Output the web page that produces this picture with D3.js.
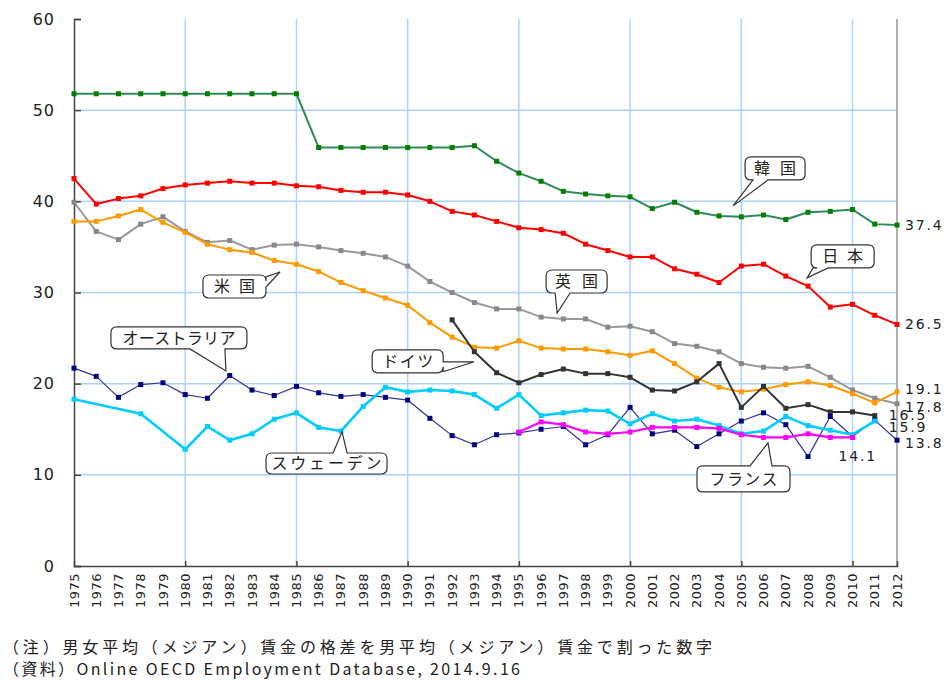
<!DOCTYPE html>
<html>
<head>
<meta charset="utf-8">
<script src="https://cdn.jsdelivr.net/npm/d3@7"></script>
<style>
  body { margin: 0; background: #fff; }
  text { font-family: "DejaVu Sans", sans-serif; fill: #222; }
  .jp { font-family: "Noto Sans CJK JP", sans-serif; }
</style>
</head>
<body>
<svg id="chart" width="944" height="680"></svg>
<script>
// years on the x axis
const years = [1975, 1976, 1977, 1978, 1979, 1980, 1981, 1982, 1983, 1984,
  1985, 1986, 1987, 1988, 1989, 1990, 1991, 1992, 1993, 1994,
  1995, 1996, 1997, 1998, 1999, 2000, 2001, 2002, 2003, 2004,
  2005, 2006, 2007, 2008, 2009, 2010, 2011, 2012];

// gender wage gap (%), one value per year, null = no data
const korea = [51.8, 51.8, 51.8, 51.8, 51.8, 51.8, 51.8, 51.8, 51.8, 51.8,
  51.8, 45.9, 45.9, 45.9, 45.9, 45.9, 45.9, 45.9, 46.1, 44.4,
  43.1, 42.2, 41.1, 40.8, 40.6, 40.5, 39.2, 39.9, 38.8, 38.4,
  38.3, 38.5, 38.0, 38.8, 38.9, 39.1, 37.5, 37.4];
const japan = [42.5, 39.7, 40.3, 40.6, 41.4, 41.8, 42.0, 42.2, 42.0, 42.0,
  41.7, 41.6, 41.2, 41.0, 41.0, 40.7, 40.0, 38.9, 38.5, 37.8,
  37.1, 36.9, 36.5, 35.3, 34.6, 33.9, 33.9, 32.6, 32.0, 31.1,
  32.9, 33.1, 31.8, 30.7, 28.4, 28.7, 27.5, 26.5];
const usa = [39.9, 36.7, 35.8, 37.5, 38.3, 36.7, 35.5, 35.7, 34.7, 35.2,
  35.3, 35.0, 34.6, 34.3, 33.9, 32.9, 31.2, 30.0, 28.9, 28.2,
  28.2, 27.3, 27.1, 27.1, 26.2, 26.3, 25.7, 24.4, 24.1, 23.5,
  22.2, 21.8, 21.7, 21.9, 20.7, 19.3, 18.4, 17.8];
const uk = [37.8, 37.8, 38.4, 39.1, 37.7, 36.6, 35.3, 34.7, 34.4, 33.5,
  33.1, 32.3, 31.1, 30.2, 29.4, 28.6, 26.7, 25.1, 24.0, 23.9,
  24.7, 23.9, 23.8, 23.8, 23.5, 23.1, 23.6, 22.2, 20.6, 19.6,
  19.1, 19.4, 19.9, 20.2, 19.8, 18.9, 17.9, 19.1];
const germany = [null, null, null, null, null, null, null, null, null, null,
  null, null, null, null, null, null, null, 27.0, 23.5, 21.2,
  20.1, 21.0, 21.6, 21.1, 21.1, 20.7, 19.3, 19.2, 20.2, 22.2,
  17.4, 19.7, 17.3, 17.7, 16.9, 16.9, 16.5, null];
const australia = [21.7, 20.8, 18.5, 19.9, 20.1, 18.8, 18.4, 20.9, 19.3, 18.7,
  19.7, 19.0, 18.6, 18.8, 18.5, 18.2, 16.2, 14.3, 13.3, 14.4,
  14.6, 15.0, 15.3, 13.3, 14.4, 17.4, 14.5, 14.9, 13.1, 14.5,
  15.9, 16.8, 15.5, 12.0, 16.4, 14.2, 16.0, 13.8];
const sweden = [18.3, null, null, 16.7, null, 12.8, 15.3, 13.8, 14.5, 16.1,
  16.8, 15.2, 14.8, 17.5, 19.6, 19.1, 19.3, 19.2, 18.8, 17.3,
  18.8, 16.5, 16.8, 17.1, 17.0, 15.6, 16.7, 15.9, 16.1, 15.4,
  14.5, 14.8, 16.4, 15.4, 14.9, 14.4, 15.9, null];
const france = [null, null, null, null, null, null, null, null, null, null,
  null, null, null, null, null, null, null, null, null, null,
  14.7, 15.8, 15.5, 14.7, 14.5, 14.7, 15.2, 15.2, 15.2, 15.1,
  14.4, 14.1, 14.1, 14.5, 14.1, 14.1, null, null];

const yTicks = [0, 10, 20, 30, 40, 50, 60];
const gridYears = [1980, 1985, 1990, 1995, 2000, 2005, 2010];

const series = [
  { name: "日本", values: japan, line: "#ff0000", mark: "#ff0000", w: 2 },
  { name: "米国", values: usa, line: "#999999", mark: "#888888", w: 2 },
  { name: "英国", values: uk, line: "#ff9900", mark: "#ff9900", w: 2 },
  { name: "ドイツ", values: germany, line: "#333333", mark: "#333333", w: 2 },
  { name: "韓国", values: korea, line: "#2e8b57", mark: "#008000", w: 2 },
  { name: "オーストラリア", values: australia, line: "#333399", mark: "#000080", w: 1.2 },
  { name: "スウェーデン", values: sweden, line: "#00ccff", mark: "#00ccff", w: 2.6 },
  { name: "フランス", values: france, line: "#ff00ff", mark: "#ff00ff", w: 2.2 }
];

// value labels at the end of lines (they crowd each other, as in the source)
const endLabels = [
  { values: korea, year: 2012, text: "37.4", dx: 8, dy: 0 },
  { values: japan, year: 2012, text: "26.5", dx: 8, dy: 0 },
  { values: uk, year: 2012, text: "19.1", dx: 8, dy: -3 },
  { values: usa, year: 2012, text: "17.8", dx: 8, dy: 3 },
  { values: germany, year: 2011, text: "16.5", dx: 14, dy: -1 },
  { values: sweden, year: 2011, text: "15.9", dx: 14, dy: 6 },
  { values: australia, year: 2012, text: "13.8", dx: 8, dy: 3 },
  { values: france, year: 2010, text: "14.1", dx: -14, dy: 19 }
];

// callouts: tip at (year, value), box offset from the tip in px
const callouts = [
  { text: "韓国", year: 2004.63, value: 39.5, dx: 12, dy: -49, w: 60, h: 23, side: "bottom", b: [8, 23], tw: 42 },
  { text: "日本", year: 2007.96, value: 31.6, dx: 4, dy: -33, w: 63, h: 23, side: "bottom", b: [2, 17], tw: 41 },
  { text: "米国", year: 1984.26, value: 32.25, dx: -77, dy: 3, w: 63, h: 23, side: "right", b: [2, 12], tw: 41 },
  { text: "英国", year: 1996.72, value: 27.75, dx: -11, dy: -43, w: 61, h: 23, side: "bottom", b: [9, 24], tw: 43 },
  { text: "オーストラリア", year: 1981.83, value: 21.4, dx: -115, dy: -44, w: 136, h: 22, side: "bottom", b: [79, 114], tw: 113 },
  { text: "ドイツ", year: 1992.99, value: 22.4, dx: -102, dy: -12, w: 71, h: 23, side: "right", b: [12, 22], tw: 51 },
  { text: "スウェーデン", year: 1987.05, value: 14.7, dx: -76, dy: 21, w: 121, h: 21, side: "top", b: [67, 81], tw: 110 },
  { text: "フランス", year: 2006.2, value: 13.5, dx: -71, dy: 23, w: 93, h: 26, side: "top", b: [53, 75], tw: 68 }
];

const svg = d3.select("#chart");
const x = d3.scaleLinear().domain([1975, 2012]).range([74, 897]);
const y = d3.scaleLinear().domain([0, 60]).range([566, 19]);

// grid
svg.append("g").selectAll("line").data(gridYears).join("line")
  .attr("x1", d => x(d)).attr("x2", d => x(d))
  .attr("y1", y(60)).attr("y2", y(0))
  .attr("stroke", "#aad4ff").attr("stroke-width", 1.5);
svg.append("g").selectAll("line").data(yTicks.filter(d => d > 0 && d < 60)).join("line")
  .attr("x1", x(1975)).attr("x2", x(2012))
  .attr("y1", d => y(d)).attr("y2", d => y(d))
  .attr("stroke", "#aad4ff").attr("stroke-width", 1.5);

// right border
svg.append("line")
  .attr("x1", x(2012)).attr("x2", x(2012)).attr("y1", y(60)).attr("y2", y(0))
  .attr("stroke", "#999").attr("stroke-width", 1.5);

// y axis
const yAxis = d3.axisLeft(y).tickValues(yTicks).tickSize(-7).tickPadding(19);
const yg = svg.append("g").attr("transform", `translate(${x(1975)},0)`).call(yAxis);
yg.select(".domain").attr("stroke", "#444").attr("stroke-width", 1.5);
yg.selectAll(".tick line").attr("stroke", "#444").attr("stroke-width", 1.5);
yg.selectAll("text").attr("font-size", 16).attr("letter-spacing", 1)
  .attr("font-family", "DejaVu Sans").attr("fill", "#222");

// x axis: ticks at 5 years, labels every year
const xTickAxis = d3.axisBottom(x).tickValues(gridYears).tickSize(-5).tickFormat("");
const xg = svg.append("g").attr("transform", `translate(0,${y(0)})`).call(xTickAxis);
xg.select(".domain").attr("stroke", "#444").attr("stroke-width", 1.5);
xg.selectAll(".tick line").attr("stroke", "#444").attr("stroke-width", 1.5);

svg.append("g").selectAll("text").data(years).join("text")
  .attr("transform", d => `translate(${x(d)},${y(0) + 7}) rotate(-90)`)
  .attr("text-anchor", "end")
  .attr("dy", "0.35em")
  .attr("font-size", 13)
  .attr("letter-spacing", 0.5)
  .text(d => d);

// lines and markers
const line = d3.line().x(d => x(d.year)).y(d => y(d.v));
series.forEach(s => {
  const pts = years.map((yr, i) => ({ year: yr, v: s.values[i] })).filter(d => d.v != null);
  svg.append("path").datum(pts)
    .attr("fill", "none").attr("stroke", s.line).attr("stroke-width", s.w)
    .attr("stroke-linejoin", "round")
    .attr("d", line);
  svg.append("g").selectAll("rect").data(pts).join("rect")
    .attr("x", d => x(d.year) - 2.5).attr("y", d => y(d.v) - 2.5)
    .attr("width", 5).attr("height", 5)
    .attr("fill", s.mark);
});

// end labels
svg.append("g").selectAll("text").data(endLabels).join("text")
  .attr("x", d => x(d.year) + d.dx)
  .attr("y", d => y(d.values[years.indexOf(d.year)]) + d.dy)
  .attr("dy", "0.36em")
  .attr("font-size", 14).attr("letter-spacing", 1.8)
  .text(d => d.text);

// callout shape: rounded box with a wedge pointing to the tip
function calloutPath(c) {
  const tx = x(c.year), ty = y(c.value);
  const bx = tx + c.dx, by = ty + c.dy, w = c.w, h = c.h, r = 6;
  const p = d3.path();
  p.moveTo(bx + r, by);
  if (c.side === "top") {
    p.lineTo(bx + c.b[0], by); p.lineTo(tx, ty); p.lineTo(bx + c.b[1], by);
  }
  p.lineTo(bx + w - r, by);
  p.quadraticCurveTo(bx + w, by, bx + w, by + r);
  if (c.side === "right") {
    p.lineTo(bx + w, by + c.b[0]); p.lineTo(tx, ty); p.lineTo(bx + w, by + c.b[1]);
  }
  p.lineTo(bx + w, by + h - r);
  p.quadraticCurveTo(bx + w, by + h, bx + w - r, by + h);
  if (c.side === "bottom") {
    p.lineTo(bx + c.b[1], by + h); p.lineTo(tx, ty); p.lineTo(bx + c.b[0], by + h);
  }
  p.lineTo(bx + r, by + h);
  p.quadraticCurveTo(bx, by + h, bx, by + h - r);
  p.lineTo(bx, by + r);
  p.quadraticCurveTo(bx, by, bx + r, by);
  p.closePath();
  return p.toString();
}

const cg = svg.append("g").selectAll("g").data(callouts).join("g");
cg.append("path")
  .attr("d", calloutPath)
  .attr("fill", "#fff").attr("stroke", "#333").attr("stroke-width", 1.2);
cg.append("text")
  .attr("class", "jp")
  .attr("x", d => x(d.year) + d.dx + d.w / 2)
  .attr("y", d => y(d.value) + d.dy + d.h / 2)
  .attr("dy", "0.36em")
  .attr("text-anchor", "middle")
  .attr("font-size", 16)
  .attr("textLength", d => d.tw)
  .attr("lengthAdjust", "spacing")
  .text(d => d.text);

// notes
svg.append("text").attr("class", "jp")
  .attr("x", 3).attr("y", 653).attr("font-size", 16)
  .attr("textLength", 709).attr("lengthAdjust", "spacing")
  .text("（注）男女平均（メジアン）賃金の格差を男平均（メジアン）賃金で割った数字");
svg.append("text").attr("class", "jp")
  .attr("x", 3).attr("y", 675).attr("font-size", 16)
  .attr("textLength", 517).attr("lengthAdjust", "spacing")
  .text("（資料）Online OECD Employment Database, 2014.9.16");
</script>
</body>
</html>
